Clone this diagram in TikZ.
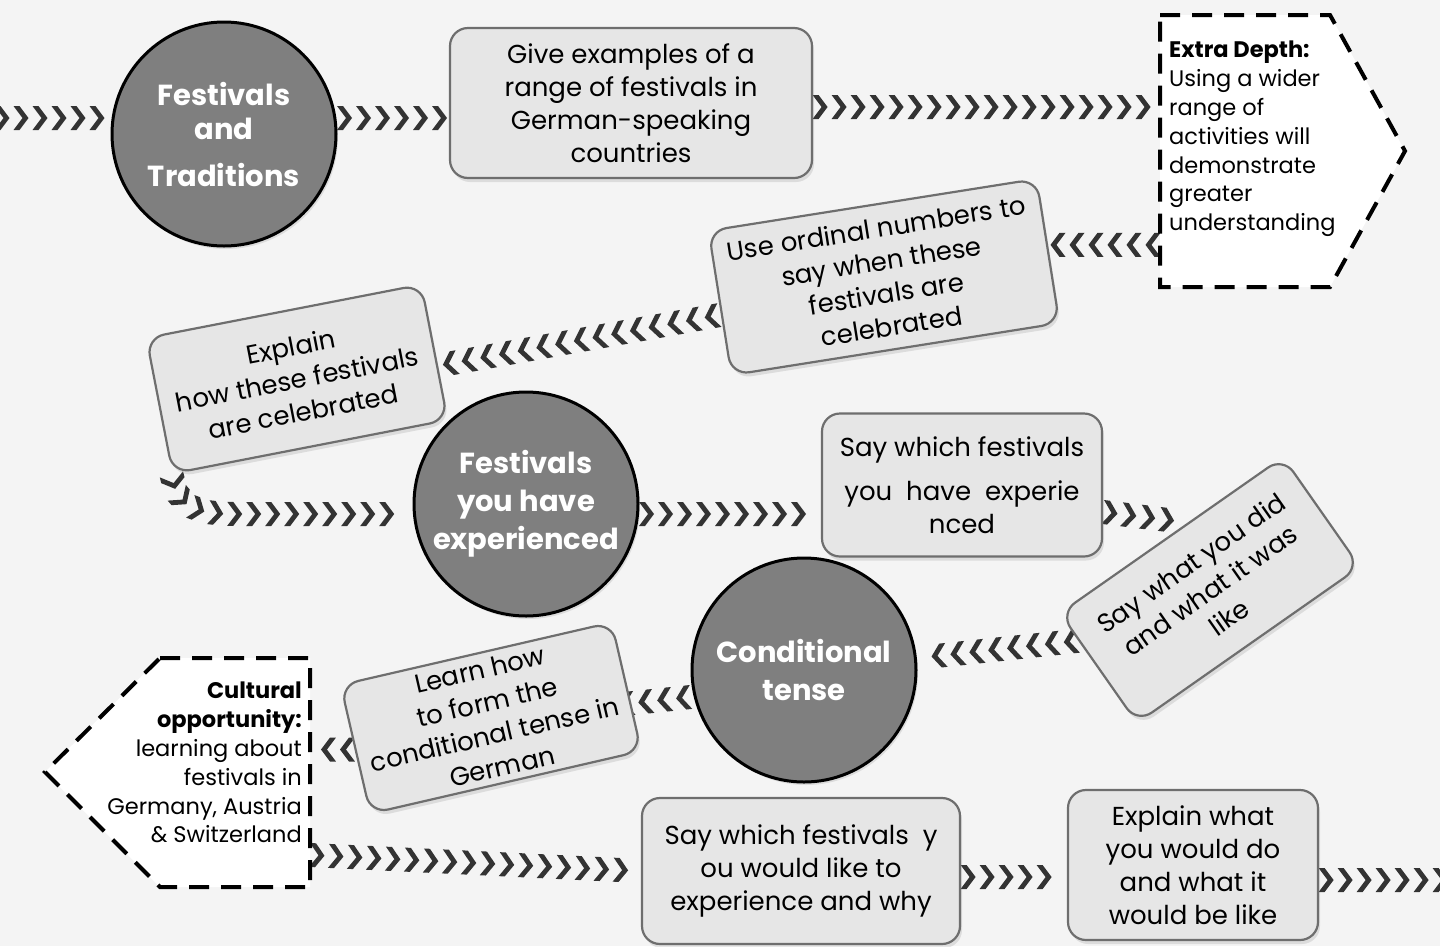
\documentclass[tikz,border=0pt]{standalone}
\usepackage{fontspec}
\setmainfont{Poppins}
\usetikzlibrary{positioning,shadows,decorations.markings,calc}

\definecolor{pagebg}{HTML}{F4F4F4}
\definecolor{boxfill}{HTML}{E6E6E6}
\definecolor{boxline}{HTML}{6E6E6E}
\definecolor{topicfill}{HTML}{7F7F7F}
\definecolor{chevcol}{HTML}{333333}

\newcommand{\boxfont}{\fontsize{26}{33}\selectfont}
\newcommand{\topicfont}{\fontsize{29}{38}\selectfont\bfseries}
\newcommand{\notefont}{\fontsize{22.5}{28.8}\selectfont}

\pgfdeclarelayer{bg}
\pgfdeclarelayer{chev}
\pgfsetlayers{bg,chev,main}

\tikzset{
  taskbox/.style={draw=boxline, fill=boxfill, line width=2.2pt, rounded corners=18pt,
    align=center, font=\boxfont, inner sep=2pt,
    drop shadow={shadow xshift=2pt, shadow yshift=-4pt, opacity=0.2}},
  topic/.style={circle, draw=black, line width=3pt, fill=topicfill, minimum size=224pt,
    inner sep=0pt, align=center, text=white, font=\topicfont,
    drop shadow={shadow xshift=2pt, shadow yshift=-3pt, opacity=0.2}},
  dashframe/.style={draw=black, fill=white, line width=4pt, dash pattern=on 20pt off 12pt},
  notetext/.style={font=\notefont, inner sep=0pt},
  chevrons/.style={decoration={markings,
    mark=between positions 7pt and -7pt step 19pt with
      {\fill[chevcol] (-7.5pt,-12pt) -- (-1.5pt,-12pt) -- (7.5pt,0pt) -- (-1.5pt,12pt) -- (-7.5pt,12pt) -- (1.5pt,0pt) -- cycle;}},
    decorate},
}

\begin{document}
\begin{tikzpicture}[x=1pt,y=-1pt]

\useasboundingbox (0,0) rectangle (1440,946);
\begin{pgfonlayer}{bg}
\fill[pagebg] (0,0) rectangle (1440,946);
\end{pgfonlayer}

% topics
\node[topic] (trad) at (224,134) {Festivals\\[-4pt]and\\[9pt]Traditions};
\node[topic] (exper) at (526,504) {Festivals\\you have\\experienced};
\node[topic] (cond) at (804,670) {Conditional\\tense};

% tasks
\node[taskbox, minimum width=362pt, minimum height=150pt] (give) at (631,103)
  {Give examples of a\\range of festivals in\\German-speaking\\countries};
\node[taskbox, minimum width=332pt, minimum height=146pt, rotate=9] (ordinal) at (884,277)
  {Use ordinal numbers to\\say when these\\festivals are\\celebrated};
\node[taskbox, minimum width=280pt, minimum height=138pt, rotate=11] (expl) at (297,379)
  {Explain\\how these festivals\\are celebrated};
\node[taskbox, minimum width=280pt, minimum height=143pt] (say) at (962,485)
  {Say which festivals\\[11pt]you\ \ have\ \ experie\\nced};
\node[taskbox, minimum width=272pt, minimum height=134pt, rotate=35] (saywhat) at (1210,590)
  {Say what you did\\and what it was\\like};
\node[taskbox, minimum width=278pt, minimum height=132pt, rotate=13] (learn) at (491,718)
  {Learn how\\to form the\\conditional tense in\\German};
\node[taskbox, minimum width=318pt, minimum height=146pt] (wish) at (801,871)
  {Say which festivals\ \ y\\ou would like to\\experience and why};
\node[taskbox, minimum width=250pt, minimum height=150pt] (would) at (1193,865)
  {Explain what\\you would do\\and what it\\would be like};

% extra depth
\coordinate (xnw) at (1160,15);
\coordinate (xse) at (1330,287);
\draw[dashframe] (xnw) -- (xnw -| xse) -- (1405,151) -- (xse) -- (xnw |- xse) -- cycle;
\node[notetext, anchor=north west, align=left] (extra) at (1169,41)
  {\textbf{Extra Depth:}\\Using a wider\\range of\\activities will\\demonstrate\\greater\\understanding};

% cultural opportunity
\coordinate (ynw) at (160,658);
\coordinate (yse) at (310,887);
\draw[dashframe] (ynw) -- (ynw -| yse) -- (yse) -- (ynw |- yse) -- (45,772) -- cycle;
\node[notetext, anchor=north east, align=right] (cult) at (302,682)
  {\textbf{Cultural}\\\textbf{opportunity:}\\learning about\\festivals in\\Germany, Austria\ \\\& Switzerland};

% chevron links
\coordinate (lin) at (-5,118);
\coordinate (rout) at (1450,880);
\begin{pgfonlayer}{chev}
\path[chevrons] (lin) -- (lin -| trad.west);
\path[chevrons] ([yshift=16pt]trad.east) -- ([yshift=-15pt]give.west);
\path[chevrons] ([yshift=-4pt]give.east) -- ([yshift=-4pt]give.east -| xnw);
\path[chevrons] ($(ordinal.east -| xnw)+(0,-6)$) -- ([yshift=6pt]ordinal.east);
\path[chevrons] ([yshift=-12pt]ordinal.west) -- ([yshift=-14pt]expl.east);
\path[chevrons] (expl.south west) .. controls +(5,32) and +(-40,0) .. ([xshift=-175pt,yshift=-10pt]exper.west) -- ([yshift=-10pt]exper.west);
\path[chevrons] ([yshift=-10pt]exper.east) -- ([yshift=-10pt]exper.east -| say.west);
\path[chevrons] ([yshift=-27pt]say.east) -- ($(saywhat.north)!0.15!(saywhat.north east)$);
\path[chevrons] ($(saywhat.west)!0.5!(saywhat.north west)$) -- ([yshift=12pt]cond.east);
\path[chevrons] ([yshift=-27pt]cond.west) -- (learn.center);
\path[chevrons] (learn.west) -- (learn.west -| yse);
\path[chevrons] ([yshift=32pt]yse) -- (wish.west);
\path[chevrons] ([yshift=-6pt]wish.east) -- ([yshift=-6pt]wish.east -| would.west);
\path[chevrons] ([yshift=-15pt]would.east) -- (rout);
\end{pgfonlayer}

\end{tikzpicture}
\end{document}
